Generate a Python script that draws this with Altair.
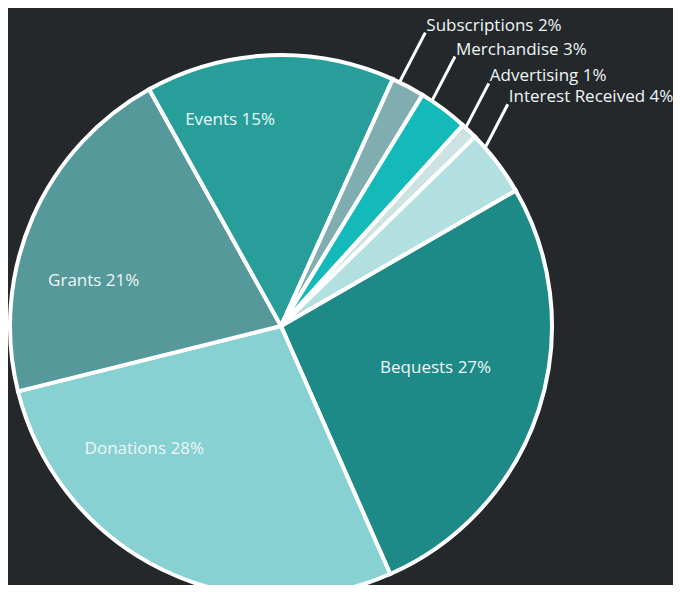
import altair as alt
import pandas as pd
import numpy as np

categories = ["Bequests", "Donations", "Grants", "Events", "Subscriptions",
              "Merchandise", "Advertising", "Interest Received"]
values = [27, 28, 21, 15, 2, 3, 1, 4]
colors = ["#1e8a88", "#87d1d2", "#56999a", "#279e9a", "#80aeb0",
          "#14b9ba", "#cde3e3", "#b2dfe0"]
outside = [False, False, False, False, True, True, True, True]

# layout constants (pixels in chart space)
CX, CY, R = 273, 318, 271
START = np.deg2rad(60)
LABEL_R = 190
inner_offsets = {"Bequests": (-26, -17), "Donations": (-53, -48),
                 "Grants": (-13, 31), "Events": (-43, -16)}
lead_len = {"Subscriptions": 56, "Merchandise": 50, "Advertising": 50,
            "Interest Received": 49}
LEAD_DIR = np.deg2rad(27.5)
LEAD_FRAC = 0.22

df = pd.DataFrame({"category": categories, "value": values,
                   "idx": range(len(categories)), "outside": outside})
df["label"] = [f"{c} {v}%" for c, v in zip(categories, values)]

total = float(sum(values))
cum = np.cumsum(values)
a0 = START + 2 * np.pi * (cum - np.array(values)) / total
a1 = START + 2 * np.pi * cum / total
mid = (a0 + a1) / 2

# inside labels
sel_in = ~df["outside"].values
ins = df[sel_in].copy()
m = mid[sel_in]
ins["x"] = [CX + LABEL_R * np.sin(a) + inner_offsets[c][0] for a, c in zip(m, ins["category"])]
ins["y"] = [CY - LABEL_R * np.cos(a) + inner_offsets[c][1] for a, c in zip(m, ins["category"])]

# outside labels with leader lines
sel = df["outside"].values
out = df[sel].copy()
la = a0[sel] + LEAD_FRAC * (a1[sel] - a0[sel])
L = np.array([lead_len[c] for c in out["category"]])
out["xs"] = CX + R * np.sin(la)
out["ys"] = CY - R * np.cos(la)
out["xe"] = out["xs"] + L * np.sin(LEAD_DIR)
out["ye"] = out["ys"] - L * np.cos(LEAD_DIR)
out["yt"] = out["ye"] - 2

FONT = "Open Sans"
FS = 17
TXT = "#eef6f6"

arc = alt.Chart(df).mark_arc(outerRadius=R, stroke="white", strokeWidth=4).encode(
    theta=alt.Theta("value:Q", stack=True,
                    scale=alt.Scale(range=[float(START), float(START + 2 * np.pi)])),
    color=alt.Color("category:N", scale=alt.Scale(domain=categories, range=colors), legend=None),
    order=alt.Order("idx:Q"),
    x=alt.value(CX), y=alt.value(CY),
)

inner_text = alt.Chart(ins).mark_text(
    font=FONT, fontSize=FS, color=TXT, align="center", baseline="middle"
).encode(
    x=alt.X("x:Q", scale=None, axis=None),
    y=alt.Y("y:Q", scale=None, axis=None),
    text="label:N",
)

leaders = alt.Chart(out).mark_rule(color="white", strokeWidth=3).encode(
    x=alt.X("xs:Q", scale=None, axis=None),
    y=alt.Y("ys:Q", scale=None, axis=None),
    x2="xe:Q", y2="ye:Q",
)

outer_text = alt.Chart(out).mark_text(
    font=FONT, fontSize=FS, color=TXT, align="left", baseline="alphabetic", dx=1
).encode(
    x=alt.X("xe:Q", scale=None, axis=None),
    y=alt.Y("yt:Q", scale=None, axis=None),
    text="label:N",
)

chart = alt.layer(arc, inner_text, leaders, outer_text).properties(
    width=665, height=577, padding=0, background="#25282b",
    autosize=alt.AutoSizeParams(type="none"),
).configure_view(stroke=None)

chart.save("out.html", embed_options={"renderer": "svg", "actions": False})
